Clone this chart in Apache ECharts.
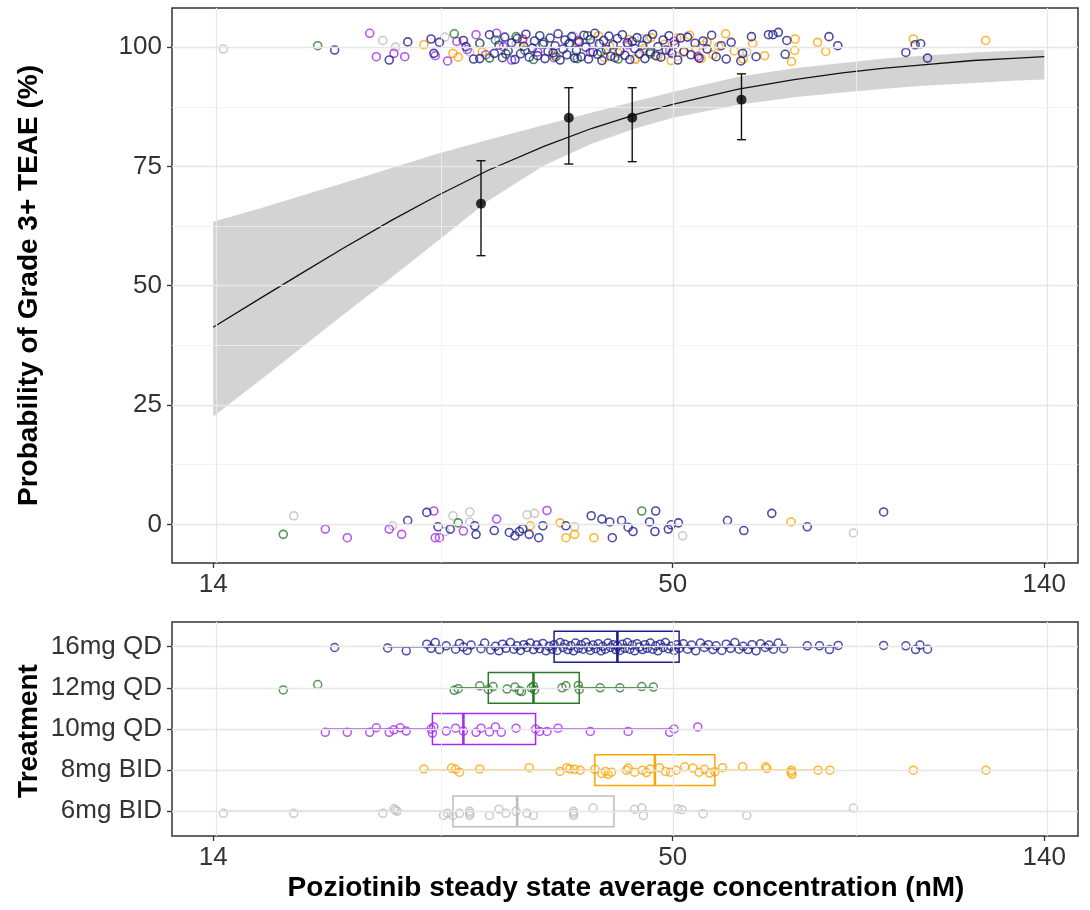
<!DOCTYPE html>
<html><head><meta charset="utf-8">
<script src="https://cdn.jsdelivr.net/npm/echarts@6/dist/echarts.min.js"></script>
<style>html,body{margin:0;padding:0;background:#fff}#c{width:1090px;height:910px}</style>
</head><body><div id="c"></div>
<script>
const FONT = '"Liberation Sans", Arial, sans-serif';
const TREATMENTS = ['16mg QD','12mg QD','10mg QD','8mg BID','6mg BID'];
const TRT_COLORS = ['#1F1F8C','#2B7A2B','#A52CF0','#FFA500','#BEBEBE'];
const X_TICKS = [14, 50, 140];
const X_MINOR = [26.46, 83.67];
const Y_TICKS = [0, 25, 50, 75, 100];
const Y_MINOR = [12.5, 37.5, 62.5, 87.5];
const X_RANGE = [12.49, 153.7];
const Y_RANGE = [-8.1, 108.2];

// fitted logistic curve and 95% band
const CURVE_CONC = [14,16,18,20,23,26,30,35,40,45,50,60,70,80,90,100,115,130,140];
const CURVE_PROB = [41.3,47.5,52.9,57.7,63.8,68.8,74.2,79.2,83.0,85.8,88.0,91.2,93.2,94.6,95.6,96.3,97.2,97.7,98.0];
const BAND_UPPER = [63.4,66.3,69.0,71.4,74.7,77.6,80.6,83.7,86.3,88.6,90.6,93.8,95.6,96.7,97.6,98.2,98.9,99.3,99.4];
const BAND_LOWER = [22.6,30.4,37.4,43.7,51.9,59.2,67.8,75.2,79.8,82.9,85.2,87.9,89.5,90.5,91.3,91.9,92.5,93.0,93.2];

// binned observed proportions with error bars
const BIN_CONC = [29.4, 37.5, 44.7, 60.5];
const BIN_PROB = [67.2, 85.2, 85.2, 89.0];
const BIN_LOW  = [56.3, 75.5, 76.0, 80.6];
const BIN_HIGH = [76.2, 91.5, 91.5, 94.4];

// individual responses (conc nM, plotted % with jitter)
const TOP_16QD = [[19.6,99.4],[22.8,97.3],[24.0,101.1],[25.6,101.7],[25.8,98.7],[26.2,101.0],[28.0,101.4],[28.2,100.1],[28.8,97.5],[29.3,97.6],[30.1,102.6],[30.5,98.7],[30.9,100.4],[31.2,97.8],[31.4,102.1],[31.7,99.2],[32.0,100.9],[32.3,97.4],[32.5,101.8],[32.8,98.6],[33.1,100.2],[33.3,102.7],[33.6,97.9],[33.9,99.8],[34.1,101.3],[34.4,98.2],[34.6,102.4],[34.9,100.6],[35.1,97.6],[35.4,99.1],[35.6,101.9],[35.9,98.8],[36.1,100.3],[36.4,102.8],[36.6,97.3],[36.9,99.6],[37.1,101.5],[37.3,98.4],[37.6,100.8],[37.8,102.2],[38.1,97.7],[38.3,99.3],[38.6,101.1],[38.8,98.0],[39.1,102.5],[39.3,100.0],[39.6,97.5],[39.8,101.6],[40.1,99.0],[40.3,102.9],[40.6,98.5],[40.8,100.7],[41.1,97.2],[41.3,101.4],[41.6,99.5],[41.9,102.3],[42.1,98.1],[42.4,100.5],[42.6,97.8],[42.9,101.8],[43.2,99.2],[43.5,102.6],[43.8,98.3],[44.1,100.9],[44.4,97.4],[44.7,101.2],[45.0,99.7],[45.3,102.0],[45.6,98.6],[46.0,100.4],[46.3,97.6],[46.6,101.7],[47.0,99.0],[47.3,102.7],[47.7,98.2],[48.0,100.1],[48.4,97.9],[48.7,101.5],[49.1,99.4],[49.5,102.4],[49.9,98.7],[50.3,100.6],[50.7,97.3],[51.1,101.9],[51.6,99.1],[52.1,102.1],[52.6,98.4],[53.2,100.8],[53.8,97.7],[54.4,101.3],[55.0,99.6],[55.7,102.5],[56.4,98.0],[57.2,100.3],[58.0,97.5],[58.8,101.0],[60.4,97.1],[60.7,98.7],[62.2,102.2],[63.0,98.0],[65.2,102.6],[66.0,102.6],[67.0,103.1],[68.3,98.5],[68.6,101.4],[77.1,102.2],[79.0,100.3],[95.4,98.9],[97.9,100.5],[99.4,100.7],[101.3,97.7],
  [24.0,0.8],[25.3,2.5],[26.1,-0.5],[27.0,-1.0],[28.9,-0.3],[29.0,-2.1],[30.5,-1.3],[31.8,-1.7],[32.3,-2.4],[32.7,-1.5],[33.0,-0.9],[33.6,-2.1],[34.5,-2.8],[34.9,-0.3],[37.2,-0.3],[39.9,1.8],[41.1,1.1],[42.0,0.5],[42.3,-2.8],[43.4,0.8],[44.2,-0.6],[44.8,-1.5],[46.9,0.5],[47.6,-1.5],[47.7,2.8],[49.4,-1.0],[49.8,-0.1],[50.8,0.3],[58.2,0.8],[60.9,-1.3],[65.8,2.3],[72.6,-0.5],[89.7,2.6]];
const TOP_12QD = [[18.7,100.3],[27.3,102.8],[29.3,100.8],[30.1,97.7],[30.6,101.5],[31.5,98.6],[32.4,102.2],[33.2,99.3],[34.0,97.4],[35.0,101.0],[36.2,98.0],[37.5,100.7],[38.4,97.6],[39.5,102.4],[41.0,99.0],[43.0,97.5],[47.0,98.6],
  [17.0,-2.1],[27.6,0.3],[45.9,2.8]];
const TOP_10QD = [[21.6,102.9],[22.0,98.0],[23.1,98.7],[23.8,98.0],[25.9,98.2],[26.8,97.1],[27.5,101.2],[28.3,99.5],[29.0,102.6],[29.3,100.8],[29.8,98.4],[30.7,102.9],[31.3,100.1],[32.0,97.3],[33.0,101.7],[34.4,99.0],[36.0,97.8],[38.5,101.4],[39.8,98.9],[44.2,100.5],[49.6,99.2],[50.2,101.3],[53.6,98.1],
  [19.1,-1.0],[20.3,-2.8],[22.8,-1.0],[23.6,-2.1],[25.8,2.8],[25.9,-2.8],[26.2,-2.8],[28.0,-1.4],[30.7,1.1],[35.3,2.9]];
const TOP_8BID = [[25.1,100.5],[27.2,98.7],[27.6,97.9],[29.5,99.0],[33.0,101.2],[36.0,98.3],[38.5,100.9],[40.7,102.4],[41.4,97.8],[42.0,100.2],[43.0,98.8],[44.3,101.6],[45.1,97.4],[46.2,99.7],[47.1,102.0],[48.0,98.1],[48.9,100.6],[49.8,97.2],[50.6,101.9],[51.5,98.9],[52.4,102.5],[53.3,99.5],[54.1,97.6],[55.0,101.1],[55.9,98.4],[56.8,100.2],[57.9,102.8],[59.3,99.2],[60.8,97.5],[62.4,100.8],[64.5,98.2],[69.5,97.0],[70.1,99.3],[70.2,101.7],[74.7,101.0],[76.4,99.1],[97.4,101.7],[119.0,101.4],
  [33.7,-0.3],[36.6,0.3],[37.2,-2.8],[38.1,-2.1],[40.2,-2.8],[69.4,0.5]];
const TOP_6BID = [[14.4,99.6],[22.4,101.4],[23.2,100.0],[26.6,102.1],[28.5,99.0],[30.1,97.8],[30.9,101.5],[31.5,98.5],[32.4,100.7],[38.0,102.3],[38.0,98.2],[40.1,100.9],[45.0,97.6],[45.9,101.8],[46.1,99.3],[50.7,98.1],[54.4,100.4],[61.4,99.0],
  [17.5,1.8],[23.0,-0.3],[26.6,-1.5],[27.2,1.8],[28.5,2.6],[28.5,0.5],[33.4,2.0],[34.1,2.3],[38.1,-0.5],[51.4,-2.4],[82.5,-1.8]];

// boxplot statistics per treatment (nM)
const BOX_LOW  = [22.7, 27.5, 19.1, 25.1, 14.4];
const BOX_Q1   = [36.0, 30.0, 25.7, 40.3, 27.2];
const BOX_MED  = [42.9, 34.0, 28.0, 47.6, 32.5];
const BOX_Q3   = [50.9, 38.6, 34.2, 56.2, 42.5];
const BOX_HIGH = [79.1, 47.4, 50.2, 77.3, 82.5];

// individual concentrations per treatment (nM, vertical jitter in category units)
const PTS_16QD = [[19.6,0.02],[22.7,0.03],[23.9,0.1],[25.3,-0.06],[25.6,0.04],[25.9,-0.1],[26.2,0.07],[26.7,-0.02],[27.4,0.06],[27.7,-0.08],[28.0,0.01],[28.3,0.09],[28.6,-0.04],[29.4,0.05],[29.7,-0.09],[30.2,0.08],[30.6,-0.01],[30.9,0.1],[31.2,-0.06],[31.5,0.04],[31.9,-0.1],[32.2,0.06],[32.5,-0.02],[32.8,0.09],[33.1,-0.05],[33.4,0.02],[33.7,-0.09],[34.0,0.07],[34.3,-0.04],[34.6,0.05],[34.9,-0.08],[35.2,0.1],[35.5,-0.01],[35.8,0.06],[36.0,-0.05],[36.3,0.09],[36.6,-0.1],[36.9,0.02],[37.1,-0.06],[37.4,0.07],[37.7,-0.02],[38.0,0.1],[38.2,-0.09],[38.5,0.04],[38.8,-0.05],[39.0,0.06],[39.3,-0.1],[39.6,0.01],[39.8,0.09],[40.1,-0.04],[40.4,0.05],[40.7,-0.07],[41.0,0.1],[41.2,-0.01],[41.5,0.06],[41.8,-0.09],[42.1,0.02],[42.4,-0.05],[42.7,0.07],[42.9,-0.02],[43.2,0.09],[43.5,-0.06],[43.8,0.04],[44.1,-0.1],[44.4,0.06],[44.7,-0.04],[45.0,0.1],[45.3,-0.07],[45.6,0.01],[46.0,0.07],[46.3,-0.05],[46.6,0.04],[47.0,-0.09],[47.3,0.06],[47.7,-0.02],[48.0,0.1],[48.3,-0.06],[48.7,0.02],[49.0,-0.1],[49.4,0.05],[49.8,-0.01],[50.2,0.09],[50.6,-0.05],[50.9,0.04],[51.5,-0.07],[52.1,0.06],[52.7,-0.04],[53.3,0.1],[54.0,-0.09],[54.6,0.02],[55.2,-0.05],[55.9,0.07],[56.4,-0.02],[57.3,0.09],[58.0,-0.06],[58.7,0.04],[59.4,-0.1],[60.1,0.06],[60.8,-0.01],[61.6,0.07],[62.3,-0.05],[63.0,0.1],[63.8,-0.07],[64.6,0.02],[65.3,-0.04],[66.1,0.06],[67.0,-0.09],[68.0,0.05],[72.6,-0.02],[75.1,-0.02],[77.2,0.07],[79.1,-0.03],[89.7,-0.03],[95.4,-0.02],[98.0,0.07],[99.2,-0.04],[101.3,0.06]];
const PTS_12QD = [[17.0,0.05],[18.7,-0.08],[27.3,0.06],[27.6,0.02],[29.3,-0.05],[30.0,0.04],[30.4,-0.03],[31.6,0.03],[32.3,-0.02],[32.7,0.07],[32.9,0.09],[33.8,0.0],[34.0,-0.04],[34.1,0.05],[36.8,0.0],[37.2,-0.05],[38.5,-0.06],[38.6,0.04],[40.9,0.0],[43.2,0.0],[45.9,-0.03],[47.4,-0.02]];
const PTS_10QD = [[19.1,0.08],[20.3,0.08],[21.6,0.08],[22.0,-0.03],[22.8,0.08],[23.1,0.02],[23.5,-0.03],[23.9,0.05],[25.6,0.0],[25.7,0.1],[25.8,-0.05],[26.7,0.05],[27.4,-0.02],[28.0,0.05],[29.0,0.08],[29.4,-0.02],[30.1,0.07],[30.6,-0.05],[31.1,0.08],[32.4,-0.02],[34.2,0.0],[34.6,0.06],[35.3,0.06],[36.4,-0.02],[39.8,0.06],[44.2,0.06],[49.6,0.08],[50.2,0.0],[53.6,-0.05]];
const PTS_8BID = [[25.1,-0.03],[27.1,-0.05],[27.4,-0.02],[27.7,0.05],[29.3,-0.03],[33.6,-0.06],[36.6,0.03],[37.3,-0.06],[37.6,-0.03],[38.1,-0.02],[38.7,0.0],[40.3,-0.02],[41.1,0.08],[41.5,0.03],[41.8,0.1],[42.2,0.05],[44.0,0.0],[44.2,-0.05],[45.0,0.05],[46.0,0.0],[46.5,0.06],[47.0,-0.03],[48.2,-0.06],[49.0,0.03],[49.7,0.05],[50.5,0.0],[51.7,-0.08],[52.9,-0.05],[53.8,0.05],[54.6,-0.02],[55.4,0.07],[56.2,0.04],[57.4,-0.06],[60.7,-0.08],[64.7,-0.08],[64.9,-0.04],[69.4,0.05],[69.5,0.0],[69.6,0.1],[74.8,0.0],[77.3,0.0],[97.4,0.0],[119.1,0.0]];
const PTS_6BID = [[14.4,0.05],[17.5,0.05],[22.4,0.05],[23.1,-0.06],[23.2,-0.03],[23.3,0.0],[26.5,0.1],[26.8,0.05],[27.2,0.1],[27.7,0.05],[28.5,0.0],[28.5,0.05],[28.5,0.1],[30.1,0.1],[30.9,-0.05],[31.5,0.05],[32.4,0.0],[33.4,0.05],[34.0,0.1],[38.0,0.0],[38.0,0.05],[38.0,0.1],[40.1,-0.08],[45.0,-0.05],[45.9,-0.08],[46.1,0.1],[50.7,-0.06],[51.3,-0.04],[54.4,0.06],[61.4,0.1],[82.5,-0.08]];

const TOP_SETS = [TOP_16QD, TOP_12QD, TOP_10QD, TOP_8BID, TOP_6BID];
const BOX_SETS = [PTS_16QD, PTS_12QD, PTS_10QD, PTS_8BID, PTS_6BID];

const lg = Math.log10;
const chart = echarts.init(document.getElementById('c'), null, {renderer: 'canvas'});

const MAJOR = {color: '#E6E6E6', width: 1.3, type: 'solid'};
const MINOR = {color: '#F0F0F0', width: 0.8, type: 'solid'};

function gridLines(gi, withYMinor, yMajor) {
  const d = [];
  X_TICKS.forEach(v => d.push({xAxis: lg(v), lineStyle: MAJOR}));
  X_MINOR.forEach(v => d.push({xAxis: lg(v), lineStyle: MINOR}));
  yMajor.forEach(v => d.push({yAxis: v, lineStyle: MAJOR}));
  if (withYMinor) Y_MINOR.forEach(v => d.push({yAxis: v, lineStyle: MINOR}));
  return {type: 'line', xAxisIndex: gi, yAxisIndex: gi, data: [], silent: true, z: 1,
    markLine: {silent: true, symbol: ['none', 'none'], animation: false, label: {show: false}, data: d}};
}

const series = [];
series.push(gridLines(0, true, Y_TICKS));
series.push(gridLines(1, false, [0, 1, 2, 3, 4]));

// confidence band
series.push({type: 'custom', xAxisIndex: 0, yAxisIndex: 0, z: 2, silent: true,
  data: [[lg(CURVE_CONC[0]), CURVE_PROB[0]]],
  renderItem: (params, api) => {
    const pts = [];
    for (let i = 0; i < CURVE_CONC.length; i++) pts.push(api.coord([lg(CURVE_CONC[i]), BAND_UPPER[i]]));
    for (let i = CURVE_CONC.length - 1; i >= 0; i--) pts.push(api.coord([lg(CURVE_CONC[i]), BAND_LOWER[i]]));
    return {type: 'polygon', shape: {points: pts}, style: {fill: 'rgba(150,150,150,0.42)'}};
  }});
// fitted curve
series.push({type: 'line', xAxisIndex: 0, yAxisIndex: 0, z: 3, silent: true, symbol: 'none',
  data: CURVE_CONC.map((c, i) => [lg(c), CURVE_PROB[i]]),
  lineStyle: {color: '#111', width: 1.3}});

// jittered responses
const drawOrder = [4, 3, 2, 1, 0];
drawOrder.forEach(t => {
  series.push({type: 'scatter', xAxisIndex: 0, yAxisIndex: 0, z: 4, silent: true,
    symbol: 'circle', symbolSize: 8,
    data: TOP_SETS[t].map(p => [lg(p[0]), p[1]]),
    itemStyle: {color: 'rgba(255,255,255,0)', borderColor: TRT_COLORS[t], borderWidth: 1.6}});
});

// error bars
series.push({type: 'custom', xAxisIndex: 0, yAxisIndex: 0, z: 5, silent: true,
  data: BIN_CONC.map((c, i) => [lg(c), BIN_LOW[i], BIN_HIGH[i]]),
  encode: {x: 0, y: [1, 2]},
  renderItem: (params, api) => {
    const lo = api.coord([api.value(0), api.value(1)]);
    const hi = api.coord([api.value(0), api.value(2)]);
    const w = 4.5;
    const st = {stroke: '#111', lineWidth: 1.4};
    return {type: 'group', children: [
      {type: 'line', shape: {x1: lo[0], y1: lo[1], x2: hi[0], y2: hi[1]}, style: st},
      {type: 'line', shape: {x1: lo[0] - w, y1: lo[1], x2: lo[0] + w, y2: lo[1]}, style: st},
      {type: 'line', shape: {x1: hi[0] - w, y1: hi[1], x2: hi[0] + w, y2: hi[1]}, style: st}
    ]};
  }});
series.push({type: 'scatter', xAxisIndex: 0, yAxisIndex: 0, z: 6, silent: true,
  symbol: 'circle', symbolSize: 10,
  data: BIN_CONC.map((c, i) => [lg(c), BIN_PROB[i]]),
  itemStyle: {color: '#000'}});

// boxplots
series.push({type: 'custom', xAxisIndex: 1, yAxisIndex: 1, z: 3, silent: true,
  data: TREATMENTS.map((_, i) => [i, lg(BOX_LOW[i]), lg(BOX_Q1[i]), lg(BOX_MED[i]), lg(BOX_Q3[i]), lg(BOX_HIGH[i])]),
  encode: {y: 0, x: [1, 2, 3, 4, 5]},
  renderItem: (params, api) => {
    const i = api.value(0);
    const col = TRT_COLORS[i];
    const pLow = api.coord([api.value(1), i]);
    const pQ1 = api.coord([api.value(2), i]);
    const pMed = api.coord([api.value(3), i]);
    const pQ3 = api.coord([api.value(4), i]);
    const pHigh = api.coord([api.value(5), i]);
    const h = Math.abs(api.size([0, 0.75])[1]);
    const cy = pQ1[1];
    const st = {stroke: col, lineWidth: 1.5, fill: null};
    return {type: 'group', children: [
      {type: 'line', shape: {x1: pLow[0], y1: cy, x2: pQ1[0], y2: cy}, style: st},
      {type: 'line', shape: {x1: pQ3[0], y1: cy, x2: pHigh[0], y2: cy}, style: st},
      {type: 'rect', shape: {x: pQ1[0], y: cy - h / 2, width: pQ3[0] - pQ1[0], height: h}, style: {stroke: col, lineWidth: 1.5, fill: 'rgba(255,255,255,0)'}},
      {type: 'line', shape: {x1: pMed[0], y1: cy - h / 2, x2: pMed[0], y2: cy + h / 2}, style: {stroke: col, lineWidth: 2.6}}
    ]};
  }});
[4, 3, 2, 1, 0].forEach(t => {
  series.push({type: 'scatter', xAxisIndex: 1, yAxisIndex: 1, z: 4, silent: true,
    symbol: 'circle', symbolSize: 8,
    data: BOX_SETS[t].map(p => [lg(p[0]), t + p[1]]),
    itemStyle: {color: 'rgba(255,255,255,0)', borderColor: TRT_COLORS[t], borderWidth: 1.5}});
});

const tickLabel = {fontSize: 26, color: '#333', fontFamily: FONT};
function xAxis(gi) {
  return {type: 'value', gridIndex: gi, min: lg(X_RANGE[0]), max: lg(X_RANGE[1]),
    splitLine: {show: false}, axisLine: {show: false, onZero: false},
    axisTick: {show: true, customValues: X_TICKS.map(lg), length: 5, lineStyle: {color: '#333', width: 1.3}},
    axisLabel: Object.assign({customValues: X_TICKS.map(lg), margin: 9,
      formatter: (v) => String(X_TICKS[X_TICKS.map(lg).findIndex(q => Math.abs(q - v) < 1e-6)])}, tickLabel)};
}

const option = {
  animation: false,
  backgroundColor: '#fff',
  grid: [
    {left: 172, right: 12, top: 8, height: 555, show: true, borderColor: '#333', borderWidth: 1.5, backgroundColor: '#fff'},
    {left: 172, right: 12, top: 622, height: 214, show: true, borderColor: '#333', borderWidth: 1.5, backgroundColor: '#fff'}
  ],
  xAxis: [xAxis(0), xAxis(1)],
  yAxis: [
    {type: 'value', gridIndex: 0, min: Y_RANGE[0], max: Y_RANGE[1], splitLine: {show: false}, axisLine: {show: false, onZero: false},
      axisTick: {show: true, customValues: Y_TICKS, length: 5, lineStyle: {color: '#333', width: 1.3}},
      axisLabel: Object.assign({customValues: Y_TICKS, margin: 10}, tickLabel)},
    {type: 'value', gridIndex: 1, min: -0.6, max: 4.6, inverse: true, splitLine: {show: false}, axisLine: {show: false, onZero: false},
      axisTick: {show: true, customValues: [0, 1, 2, 3, 4], length: 5, lineStyle: {color: '#333', width: 1.3}},
      axisLabel: Object.assign({customValues: [0, 1, 2, 3, 4], margin: 10,
        formatter: (v) => TREATMENTS[Math.round(v)]}, tickLabel)}
  ],
  graphic: [
    {type: 'text', x: 29, y: 285.5, rotation: Math.PI / 2, z: 10,
      style: {text: 'Probability of Grade 3+ TEAE (%)', font: 'bold 28px ' + FONT, fill: '#000', align: 'center', verticalAlign: 'middle'}},
    {type: 'text', x: 29, y: 731, rotation: Math.PI / 2, z: 10,
      style: {text: 'Treatment', font: 'bold 28px ' + FONT, fill: '#000', align: 'center', verticalAlign: 'middle'}},
    {type: 'text', x: 626, y: 888, z: 10,
      style: {text: 'Poziotinib steady state average concentration (nM)', font: 'bold 28px ' + FONT, fill: '#000', align: 'center', verticalAlign: 'middle'}}
  ],
  series: series
};
chart.setOption(option);
</script>
</body></html>
